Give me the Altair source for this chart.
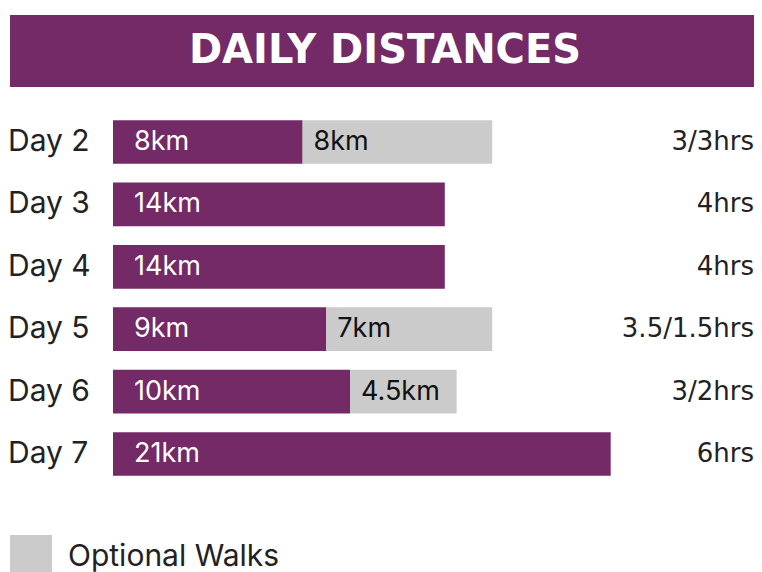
import altair as alt
import pandas as pd

days = ["Day 2", "Day 3", "Day 4", "Day 5", "Day 6", "Day 7"]
main_km = [8, 14, 14, 9, 10, 21]
optional_km = [8, 0, 0, 7, 4.5, 0]
hours = ["3/3hrs", "4hrs", "4hrs", "3.5/1.5hrs", "3/2hrs", "6hrs"]
title_text = "DAILY DISTANCES"
legend_text = "Optional Walks"

PURPLE = "#732a66"
GREY = "#cbcbcb"

def fmt(v):
    return f"{v:g}km"

df = pd.DataFrame({
    "day": days,
    "main": main_km,
    "opt": optional_km,
    "total": [m + o for m, o in zip(main_km, optional_km)],
    "main_label": [fmt(v) for v in main_km],
    "opt_label": [fmt(v) if v > 0 else "" for v in optional_km],
    "hours": hours,
})

W, H = 746, 564

xs = alt.Scale(domain=[0, 20], range=[105, 579])
ys = alt.Scale(domain=days, range=[102.8, 477.2], paddingInner=0.3, paddingOuter=0.15)

base = alt.Chart(df)
Y = alt.Y("day:N", scale=ys, axis=None)

banner = alt.Chart(pd.DataFrame({"t": [title_text]})).mark_rect(color=PURPLE).encode(
    x=alt.value(2), x2=alt.value(746), y=alt.value(7), y2=alt.value(79)
)
title = alt.Chart(pd.DataFrame({"t": [title_text]})).mark_text(
    color="white", font="DejaVu Sans", fontWeight="bold", fontSize=40, align="center", baseline="middle"
).encode(x=alt.value(377), y=alt.value(43), text="t:N")

main_bar = base.mark_rect(color=PURPLE).encode(
    x=alt.X("zero:Q", scale=xs, axis=None), x2="main:Q", y=Y
).transform_calculate(zero="0")

opt_bar = base.transform_filter("datum.opt > 0").mark_rect(color=GREY).encode(
    x=alt.X("main:Q", scale=xs, axis=None), x2="total:Q", y=Y
)

main_lbl = base.mark_text(
    color="white", font="Inter", fontSize=27, align="left", baseline="middle", dx=21
).encode(x=alt.X("zero:Q", scale=xs, axis=None), y=Y, text="main_label:N").transform_calculate(zero="0")

opt_lbl = base.transform_filter("datum.opt > 0").mark_text(
    color="#111", font="Inter", fontSize=27, align="left", baseline="middle", dx=11
).encode(x=alt.X("main:Q", scale=xs, axis=None), y=Y, text="opt_label:N")

day_lbl = base.mark_text(
    color="#222", font="Inter", fontSize=30, align="left", baseline="middle"
).encode(x=alt.value(0), y=Y, text="day:N")

hrs_lbl = base.mark_text(
    color="#222", font="DejaVu Sans", fontSize=26, align="right", baseline="middle"
).encode(x=alt.value(746), y=Y, text="hours:N")

leg_sq = alt.Chart(pd.DataFrame({"t": [legend_text]})).mark_rect(color=GREY).encode(
    x=alt.value(2), x2=alt.value(44), y=alt.value(527), y2=alt.value(564)
)
leg_txt = alt.Chart(pd.DataFrame({"t": [legend_text]})).mark_text(
    color="#222", font="Inter", fontSize=30, align="left", baseline="middle"
).encode(x=alt.value(60), y=alt.value(549), text="t:N")

chart = alt.layer(
    banner, title, main_bar, opt_bar, main_lbl, opt_lbl, day_lbl, hrs_lbl, leg_sq, leg_txt
).properties(width=W, height=H, padding=0, autosize="none").configure_view(stroke=None)

chart.save("out.html", embed_options={"renderer": "svg", "actions": False})
